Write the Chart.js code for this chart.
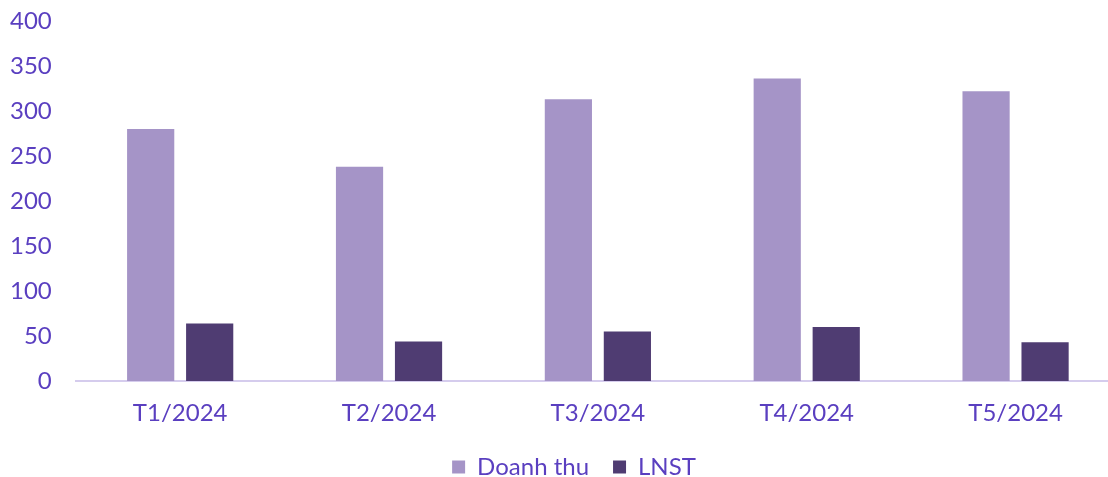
<!DOCTYPE html>
<html>
<head>
<meta charset="utf-8">
<script src="https://cdn.jsdelivr.net/npm/chart.js@4"></script>
<style>
  html, body { margin: 0; padding: 0; background: #fff; overflow: hidden; }
  #wrap { width: 1148px; height: 477px; position: relative; }
</style>
</head>
<body>
<div id="wrap"><canvas id="chart"></canvas></div>
<script>
var categories = ['T1/2024', 'T2/2024', 'T3/2024', 'T4/2024', 'T5/2024'];
var doanhThu = [280, 238, 313, 336, 322];
var lnst = [64, 44, 55, 60, 43];
var yTicks = [0, 50, 100, 150, 200, 250, 300, 350, 400];

var textColor = '#5a3fc0';

// the original legend sits a little right of the plot centre
var legendShift = {
  id: 'legendShift',
  afterLayout: function (chart) {
    chart.legend.left += 21;
    chart.legend.right += 21;
  }
};

var ctx = document.getElementById('chart').getContext('2d');
var myChart = new Chart(ctx, {
  type: 'bar',
  data: {
    labels: categories,
    datasets: [{
      label: 'Doanh thu',
      data: doanhThu,
      backgroundColor: '#a594c7',
      categoryPercentage: 0.565,
      barPercentage: 0.8
    }, {
      label: 'LNST',
      data: lnst,
      backgroundColor: '#4f3c72',
      categoryPercentage: 0.565,
      barPercentage: 0.8
    }]
  },
  plugins: [legendShift],
  options: {
    responsive: true,
    maintainAspectRatio: false,
    animation: false,
    // plot runs a bit past the right edge like the original
    layout: { padding: { left: -14, right: 28, top: 0, bottom: -12 } },
    font: { family: 'Lato' },
    scales: {
      x: {
        grid: { display: false, drawTicks: false },
        border: { display: true, color: '#d5cced', width: 2 },
        ticks: { color: textColor, font: { family: 'Lato', size: 24 }, padding: 18 },
        afterFit: function (axis) { axis.height = 50; }
      },
      y: {
        min: 0,
        max: 400,
        afterBuildTicks: function (axis) {
          axis.ticks = yTicks.map(function (v) { return { value: v }; });
        },
        afterFit: function (axis) { axis.paddingTop = 21; },
        grid: { display: false, drawTicks: false },
        border: { display: false },
        ticks: { color: textColor, font: { family: 'Lato', size: 24 }, padding: 24 }
      }
    },
    plugins: {
      legend: {
        position: 'bottom',
        labels: {
          color: textColor,
          font: { family: 'Lato', size: 24 },
          boxWidth: 13,
          boxHeight: 13,
          padding: 24
        }
      },
      tooltip: { enabled: false }
    }
  }
});
</script>
</body>
</html>
